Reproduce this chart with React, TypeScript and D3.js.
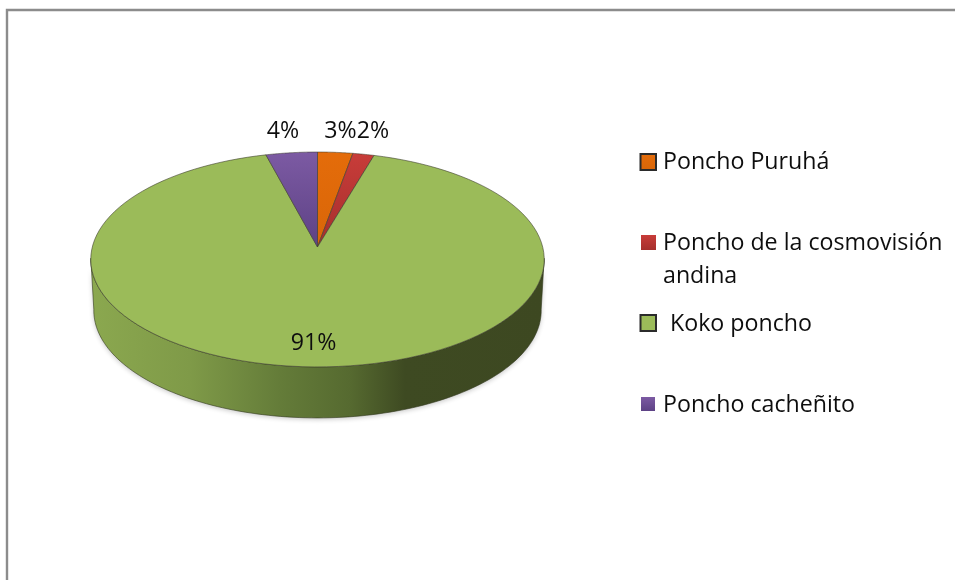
import React from "react";
import * as d3 from "d3";

const categories = ["Poncho Puruhá", "Poncho de la cosmovisión andina", "Koko poncho", "Poncho cacheñito"];
const values = [2.8, 1.7, 91.4, 4.1];
const percentLabels = ["3%", "2%", "91%", "4%"];
const colors = ["#e46c0a", "#c83c39", "#9bbb59", "#7c5aa3"];
const darkColors = ["#d96608", "#a52f2d", "#9bbb59", "#5d4285"];

const W = 955, H = 580;
const apex = { x: 317.5, y: 247 };
const A = 225.2, B = 106, K = 0.116;
const depth = 51;
const FONT = "'Open Sans', 'Noto Sans', sans-serif";
const FS = 23.2;

const labelPos = [
  { x: 340.5, y: 138 },
  { x: 373, y: 138 },
  { x: 313.5, y: 350 },
  { x: 283, y: 138 },
];
const legendRows = [
  { box: [640.5, 154, 15.5, 16], dark: true, lines: [{ x: 663, y: 169, t: "Poncho Puruhá" }] },
  { box: [641, 235, 15, 15], dark: false, lines: [{ x: 663, y: 250, t: "Poncho de la cosmovisión" }, { x: 663, y: 283, t: "andina" }] },
  { box: [640.5, 315, 15.5, 16], dark: true, lines: [{ x: 670, y: 331, t: "Koko poncho" }] },
  { box: [641, 397, 14, 14], dark: false, lines: [{ x: 663, y: 412, t: "Poncho cacheñito" }] },
];

const project = (theta: number, a = A, b = B, yOff = 0): [number, number] => {
  const u = Math.sin(theta), v = Math.cos(theta);
  const w = 1 + K * v;
  return [apex.x + (a * u) / w, apex.y - (b * v) / w + yOff];
};

const line = d3.line();
const arcPts = (t0: number, t1: number, a = A, b = B, yOff = 0) =>
  d3.range(0, 121).map((i) => project(t0 + ((t1 - t0) * i) / 120, a, b, yOff));

export default function App() {
  const slices = d3.pie<number>().sort(null)(values);
  const outer = arcPts(0, 2 * Math.PI);
  const xs = outer.map((p) => p[0]);
  const leftIdx = xs.indexOf(d3.min(xs)!);
  const rightIdx = xs.indexOf(d3.max(xs)!);
  const thR = (rightIdx / 120) * 2 * Math.PI;
  const thL = (leftIdx / 120) * 2 * Math.PI;
  const front = arcPts(thR, thL);
  const back = arcPts(thL, thR, A - 3, B, depth);
  const sidePath = line([...front, ...back])! + "Z";
  const x0 = d3.min(xs)!, x1 = d3.max(xs)!;
  const pct = d3.scaleLinear().domain([x0, x1]).range([0, 100]);
  return (
    <svg width={W} height={H} style={{ position: "absolute", left: 0, top: 0, background: "#fff" }} fontFamily={FONT}>
      <defs>
        <linearGradient id="side" x1="0" x2="1" y1="0" y2="0">
          <stop offset="0%" stopColor="#8ba84f" />
          <stop offset={`${pct(190)}%`} stopColor="#7f9a48" />
          <stop offset={`${pct(280)}%`} stopColor="#647c39" />
          <stop offset={`${pct(350)}%`} stopColor="#566a30" />
          <stop offset={`${pct(405)}%`} stopColor="#3e4a22" />
          <stop offset="100%" stopColor="#3d4821" />
        </linearGradient>
        {slices.map((s, i) => (
          <linearGradient key={i} id={`g${i}`} x1="0" x2="0" y1="0" y2="1">
            <stop offset="0%" stopColor={colors[i]} />
            <stop offset="100%" stopColor={darkColors[i]} />
          </linearGradient>
        ))}
        <filter id="soft" x="-10%" y="-10%" width="120%" height="120%">
          <feGaussianBlur stdDeviation="2.5" />
        </filter>
        <filter id="txt" x="-5%" y="-20%" width="110%" height="140%">
          <feGaussianBlur stdDeviation="0.3" />
        </filter>
      </defs>

      <path d={`M7 580V10H955`} fill="none" stroke="#8c8c8c" strokeWidth={2.4} />

      <path d={sidePath} fill="#000" opacity={0.22} filter="url(#soft)" transform="translate(0,1.5)" />
      <path d={sidePath} fill="url(#side)" stroke="#33391f" strokeWidth={0.6} />

      {slices.map((s, i) => {
        const d = line([[apex.x, apex.y], ...arcPts(s.startAngle, s.endAngle)])! + "Z";
        return <path key={i} d={d} fill={`url(#g${i})`} stroke="#3f3f30" strokeOpacity={0.85} strokeWidth={0.7} strokeLinejoin="round" />;
      })}

      <g filter="url(#txt)" fill="#111">
        {percentLabels.map((t, i) => (
          <text key={t} x={labelPos[i].x} y={labelPos[i].y} textAnchor="middle" fontSize={FS}>{t}</text>
        ))}
      </g>

      {legendRows.map((r, i) => (
        <g key={i}>
          <rect x={r.box[0]} y={r.box[1]} width={r.box[2]} height={r.box[3]} fill={`url(#g${i})`}
            stroke={r.dark ? "#2b2b2b" : "none"} strokeWidth={r.dark ? 2 : 0} />
          <g filter="url(#txt)" fill="#111">
            {r.lines.map((l, j) => (
              <text key={j} x={l.x} y={l.y} fontSize={FS}>{l.t}</text>
            ))}
          </g>
        </g>
      ))}
    </svg>
  );
}
